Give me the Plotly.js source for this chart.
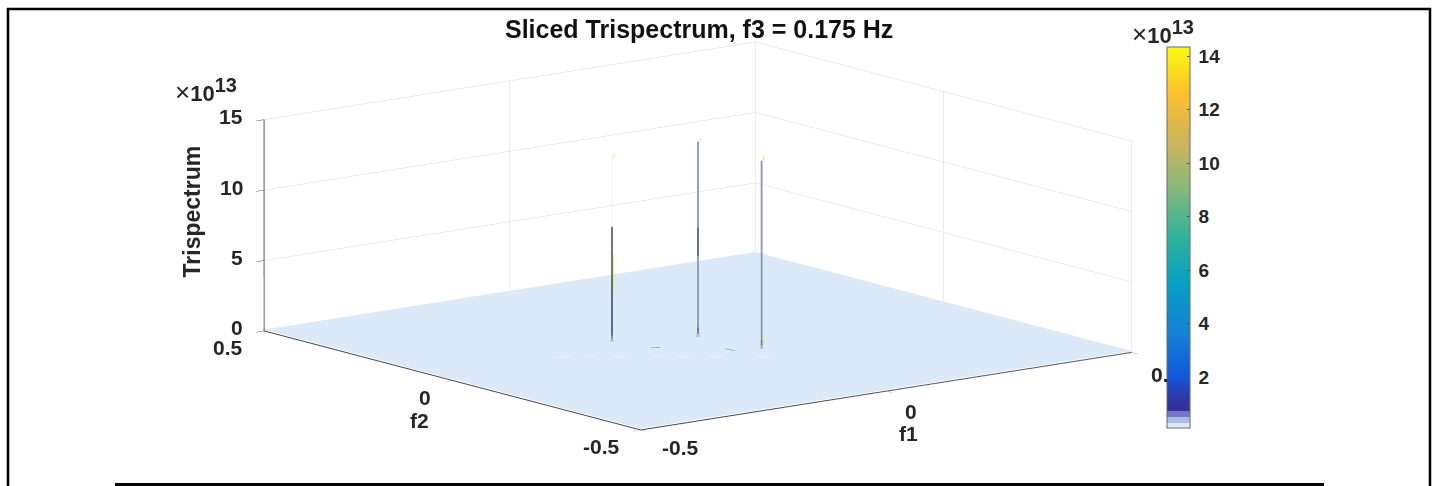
<!DOCTYPE html>
<html><head><meta charset="utf-8">
<script src="https://cdn.plot.ly/plotly-3.0.1.min.js"></script>
<style>html,body{margin:0;padding:0;background:#fff}#p{width:1435px;height:486px}</style>
</head><body><div id="p"></div>
<script>
// ---- data ----
const peakF1 = [-0.126, 0.007, 0.030];
const peakF2 = [0.064, 0.009, -0.130];
const peakFootZ = [0.9, 1.0, 0.9];
const floorZ = 0.1;
const axisTicks = [-0.5, 0, 0.5];
const f2TickText = ['-0.5', '0', '0.5'];
const f1TickText = ['-0.5', '0', '0.'];
const zTicks = [0, 5, 10, 15];
const cbTicks = [2, 4, 6, 8, 10, 12, 14];
// spike segments: peak index, from z, to z
const darkSeg  = [[0, 0, 8.4], [1, 6.0, 8.0]];
const greySeg  = [[1, 0.5, 6.0], [1, 8.0, 14.1], [2, 0.4, 13.6]];
const paleSeg  = [[0, 8.4, 13.6]];
const yellowSeg = [[0, 3.7, 6.4], [0, 13.3, 13.6], [1, 14.1, 14.3], [2, 13.6, 13.9], [2, 0.5, 1.0]];
// faint marks on the floor near the peaks
const paleDashF1 = [-0.259,-0.242,null,-0.223,-0.211,null,-0.189,-0.173,null,-0.138,-0.122,null,-0.105,-0.090,null,-0.065,-0.046,null,-0.008,0.011];
const paleDashF2 = [0.037,0.024,null,0.009,-0.001,null,-0.018,-0.031,null,-0.058,-0.071,null,-0.084,-0.096,null,-0.116,-0.131,null,-0.161,-0.176];
const darkDashF1 = [-0.097,-0.085,null,-0.007,-0.004];
const darkDashF2 = [0.000,-0.010,null,-0.081,-0.104];

// ---- style ----
const W = 1435, H = 486;
const ink = '#262626';
const bold = 'Liberation Sans';
const cmin = 0.1, cmax = 14.34;
const colorscale = [
 [0,'#dce9f8'],[0.013,'#dce9f8'],[0.013,'#b0bbe2'],[0.029,'#b0bbe2'],[0.029,'#7279c2'],[0.045,'#7279c2'],
 [0.045,'#382e96'],[0.09,'#2c3cb0'],[0.135,'#1258dc'],[0.25,'#1481d6'],[0.38,'#06a0c4'],[0.5,'#2fb29c'],
 [0.63,'#87b97a'],[0.75,'#cdb45c'],[0.88,'#fcc02e'],[1,'#f9fb0e']];

// grid: fine around each peak foot
const eps = 0.004;
function nodes(v){ const s=new Set([-0.5,0.5]); v.forEach(a=>{s.add(a-eps);s.add(a);s.add(a+eps);}); return [...s].sort((a,b)=>a-b); }
const gx = nodes(peakF1), gy = nodes(peakF2);
const gz = gy.map(y=>gx.map(x=>{
  for(let k=0;k<peakF1.length;k++) if(x===peakF1[k]&&y===peakF2[k]) return peakFootZ[k];
  return floorZ;
}));

function segTrace(segs,color,width,dx){
  const x=[],y=[],z=[];
  segs.forEach(s=>{x.push(peakF1[s[0]]+(dx||0),peakF1[s[0]]+(dx||0),null);y.push(peakF2[s[0]],peakF2[s[0]],null);z.push(s[1],s[2],null);});
  return {type:'scatter3d',mode:'lines',x,y,z,line:{color,width},hoverinfo:'skip',showlegend:false};
}
function floorTrace(fx,fy,color,width){
  return {type:'scatter3d',mode:'lines',x:fx,y:fy,z:fx.map(v=>v===null?null:floorZ),line:{color,width},connectgaps:false,hoverinfo:'skip',showlegend:false};
}
const data = [
 {type:'surface',x:gx,y:gy,z:gz,cmin,cmax,colorscale,showscale:true,hoverinfo:'skip',
  lighting:{ambient:1,diffuse:0,specular:0,roughness:1,fresnel:0},
  contours:{x:{show:false},y:{show:false},z:{show:false}},
  colorbar:{lenmode:'pixels',len:381,thicknessmode:'pixels',thickness:23,x:1167/W,xanchor:'left',y:(H-237.5)/H,yanchor:'middle',
    xpad:0,ypad:0,outlinecolor:'#6a6a6a',outlinewidth:1,borderwidth:0,bgcolor:'#ffffff',
    tickmode:'array',tickvals:cbTicks,ticktext:cbTicks.map(v=>'\u2009'+v),ticks:'inside',ticklen:3,tickwidth:1,tickcolor:'#555',
    tickfont:{family:bold,size:19,color:ink,weight:700}}},
 segTrace(greySeg,'#8492bb',3.5),
 segTrace(darkSeg,'#36466f',3),
 segTrace(paleSeg,'#eef1f6',2),
 segTrace(yellowSeg,'#f2ea5a',2,0.004),
 floorTrace(paleDashF1,paleDashF2,'#f3f7fc',2),
 floorTrace(darkDashF1,darkDashF2,'#5c6a86',1.5)
];

const fnt = {family:bold,size:21,color:ink,weight:700};
function sa(x,y,z,text,xanchor,xshift,yshift,extra){
  return Object.assign({x,y,z,text,showarrow:false,xanchor,yanchor:'middle',xshift,yshift,font:fnt},extra||{});
}
const annos = [];
const f1LabelDown = [-18, -20, -22];
const f1LabelRight = [19, 17, 17];
zTicks.forEach(v=>annos.push(sa(-0.5,0.5,v,String(v),'right',-19,3)));
axisTicks.forEach((v,i)=>annos.push(sa(-0.5,v,0,f2TickText[i],'right',-19,-17)));
axisTicks.forEach((v,i)=>annos.push(sa(v,-0.5,0,f1TickText[i],'left',f1LabelRight[i],f1LabelDown[i])));
annos.push(sa(-0.5,0,0,'f2','center',-33,-40));
annos.push(sa(0,-0.5,0,'f1','center',22,-42));
annos.push(sa(-0.5,0.5,7.5,'Trispectrum','center',-72,14,{textangle:-90,font:{family:bold,size:23,color:ink,weight:700}}));

const axisBase = {showbackground:false,showgrid:true,gridcolor:'#dadada',gridwidth:1,zeroline:false,showline:true,linecolor:'#444',linewidth:2,
  showspikes:false,showticklabels:false,ticks:'outside',ticklen:10,tickcolor:'#555',tickwidth:1,title:{text:''},tickmode:'array'};
const eyeR = 6;
const expoText = '<span style="font-size:26px">×</span><b>10<sup><span style="font-size:20px">13</span></sup></b>';
const layout = {
 width:W,height:H,margin:{l:0,r:0,t:0,b:0},paper_bgcolor:'#fff',showlegend:false,
 scene:{domain:{x:[0,1396/W],y:[14/H,1]},
  aspectmode:'manual',aspectratio:{x:2.633,y:2.604,z:0.9145},
  camera:{projection:{type:'orthographic'},eye:{x:-0.600*eyeR,y:-0.774*eyeR,z:0.204*eyeR},center:{x:0,y:0,z:0},up:{x:0,y:0,z:1}},
  xaxis:Object.assign({},axisBase,{range:[-0.5,0.5],tickvals:axisTicks}),
  yaxis:Object.assign({},axisBase,{range:[-0.5,0.5],tickvals:axisTicks}),
  zaxis:Object.assign({},axisBase,{range:[0,15],tickvals:zTicks}),
  annotations:annos},
 annotations:[
  {xref:'paper',yref:'paper',x:699/W,y:1-29/H,text:'Sliced Trispectrum, f3 = 0.175 Hz',showarrow:false,xanchor:'center',yanchor:'middle',font:{family:bold,size:25,color:'#111',weight:700}},
  {xref:'paper',yref:'paper',x:173/W,y:1-91/H,text:expoText,showarrow:false,xanchor:'left',yanchor:'middle',font:{family:bold,size:22,color:ink}},
  {xref:'paper',yref:'paper',x:1130/W,y:1-32/H,text:expoText,showarrow:false,xanchor:'left',yanchor:'middle',font:{family:bold,size:22,color:ink}}
 ],
 shapes:[
  {type:'line',xref:'paper',yref:'paper',x0:8/W,x1:8/W,y0:0,y1:1-8/H,line:{color:'#000',width:2.5}},
  {type:'line',xref:'paper',yref:'paper',x0:7/W,x1:1431/W,y0:1-9/H,y1:1-9/H,line:{color:'#000',width:2.5}},
  {type:'line',xref:'paper',yref:'paper',x0:1430/W,x1:1430/W,y0:0,y1:1-8/H,line:{color:'#000',width:2.5}},
  {type:'line',xref:'paper',yref:'paper',x0:115/W,x1:1324/W,y0:1-484.5/H,y1:1-484.5/H,line:{color:'#000',width:3}}
 ]
};
Plotly.newPlot('p',data,layout,{displayModeBar:false});
</script></body></html>
